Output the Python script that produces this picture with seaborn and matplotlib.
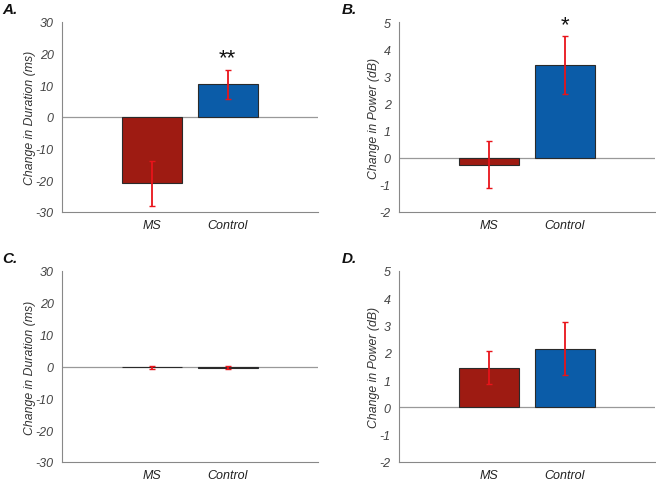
import matplotlib
matplotlib.use("Agg")
import matplotlib.pyplot as plt
import seaborn as sns
import pandas as pd

sns.set_theme(style="white")
plt.rcParams['font.family'] = ['Liberation Sans', 'DejaVu Sans']

groups = ["MS", "Control"]
colors = ["#9E1B12", "#0B5CA8"]

dur_A = [-21.0, 10.3]
dur_A_err = [7.0, 4.7]
pow_B = [-0.25, 3.42]
pow_B_err = [0.87, 1.07]
dur_C = [-0.3, -0.35]
dur_C_err = [0.5, 0.5]
pow_D = [1.45, 2.15]
pow_D_err = [0.6, 0.97]

panels = [
    ("A.", dur_A, dur_A_err, "Change in Duration (ms)", (-30, 30), list(range(-30, 31, 10)), ["", "**"]),
    ("B.", pow_B, pow_B_err, "Change in Power (dB)", (-2, 5), list(range(-2, 6)), ["", "*"]),
    ("C.", dur_C, dur_C_err, "Change in Duration (ms)", (-30, 30), list(range(-30, 31, 10)), ["", ""]),
    ("D.", pow_D, pow_D_err, "Change in Power (dB)", (-2, 5), list(range(-2, 6)), ["", ""]),
]

rects = [
    [62/656, 1-213/481, 256/656, 190/481],
    [399/656, 1-213/481, 256/656, 190/481],
    [62/656, 1-463/481, 256/656, 191/481],
    [399/656, 1-463/481, 256/656, 191/481],
]
label_pos = [(2/656, 1-10/481), (342/656, 1-10/481), (2/656, 1-259/481), (342/656, 1-259/481)]

fig = plt.figure(figsize=(6.56, 4.81), dpi=100)
for (lab, vals, errs, ylab, ylim, yt, stars), rect, lp in zip(panels, rects, label_pos):
    ax = fig.add_axes(rect)
    df = pd.DataFrame({"group": groups, "value": vals})
    sns.barplot(data=df, x="group", y="value", hue="group", palette=colors, saturation=1,
                width=0.8, edgecolor="#2a2a2a", linewidth=0.8, legend=False, ax=ax, zorder=2)
    ax.errorbar(range(len(groups)), vals, yerr=errs, fmt="none", ecolor="#E8141A",
                elinewidth=1.3, capsize=2, capthick=1.0, zorder=3)
    for i, (v, e, s) in enumerate(zip(vals, errs, stars)):
        if s:
            top = v + e
            ax.text(i, top + (ylim[1]-ylim[0])*0.005, s, ha="center", va="bottom",
                    fontsize=16, color="#111111")
    ax.axhline(0, color="#999999", lw=0.9, zorder=1)
    ax.set_xlim(-1.2, 2.2)
    ax.set_ylim(*ylim)
    ax.set_yticks(yt)
    ax.set_yticklabels([str(t) for t in yt], fontstyle="italic", color="#444444", fontsize=9)
    ax.set_xticks([0, 1])
    ax.set_xticklabels(groups, fontstyle="italic", color="#222222", fontsize=9)
    ax.set_xlabel("")
    ax.set_ylabel(ylab, fontstyle="italic", color="#333333", fontsize=8.8, labelpad=0)
    for sp in ["top", "right"]:
        ax.spines[sp].set_visible(False)
    for sp in ["left", "bottom"]:
        ax.spines[sp].set_color("#888888")
        ax.spines[sp].set_linewidth(0.8)
    ax.tick_params(axis="y", direction="out", length=3, color="#888888", width=0.8, pad=3)
    ax.tick_params(axis="x", direction="in", length=3, color="#888888", width=0.8, pad=5)
    ax.patch.set_alpha(0)
    fig.text(lp[0], lp[1], lab, fontsize=11, fontweight="bold", fontstyle="italic",
             ha="left", va="center", color="#111111")

fig.savefig("out.png", dpi=100)
